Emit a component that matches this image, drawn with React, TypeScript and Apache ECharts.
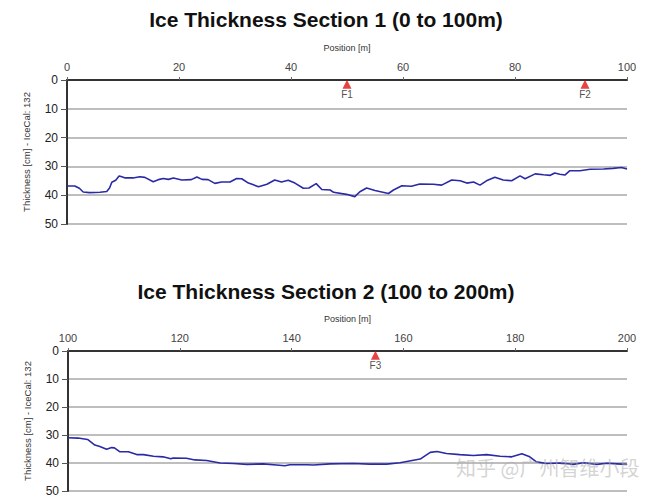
import React, { useEffect, useRef } from "react";
import * as echarts from "echarts";

// Section 1 (0–100 m)
const sec1Pos = [0, 1.4, 2.2, 2.9, 4, 5.9, 7.1, 7.6, 8, 8.7, 9.3, 9.8, 10.4, 11.8, 13, 13.9, 15.4, 16.3, 17.2, 18.1, 19, 20.5, 22.2, 23.2, 24.1, 25.2, 26.4, 27.6, 29.1, 30.3, 31.2, 32.4, 33.3, 34.2, 35.7, 37.1, 38.3, 39.5, 40.7, 42.2, 43.2, 44.5, 45.5, 47, 47.6, 49.9, 51.4, 52.3, 53.5, 55, 57.4, 58.3, 59.8, 61.5, 63, 65.4, 66.9, 68.7, 70.2, 71.4, 72.6, 73.75, 74.9, 76.4, 77.9, 79.4, 80.9, 81.8, 83.6, 85.1, 86.3, 87.1, 88, 88.9, 89.8, 91.6, 93.4, 95.8, 97.5, 99, 100];
const sec1Thk = [36.8, 36.8, 37.6, 38.9, 39.1, 39.0, 38.7, 37.5, 35.5, 34.8, 33.3, 33.6, 34.0, 34.0, 33.6, 33.8, 35.3, 34.6, 34.2, 34.5, 34.0, 34.7, 34.6, 33.7, 34.5, 34.6, 35.9, 35.4, 35.4, 34.2, 34.3, 35.8, 36.4, 37.1, 36.2, 34.7, 35.4, 34.8, 35.8, 37.6, 37.5, 36.0, 38.0, 38.2, 39.0, 39.7, 40.5, 38.8, 37.5, 38.4, 39.4, 38.2, 36.7, 36.9, 36.1, 36.2, 36.5, 34.7, 35.0, 35.8, 35.4, 36.5, 35.0, 33.8, 34.7, 35.0, 33.3, 34.3, 32.6, 32.9, 33.1, 32.3, 32.7, 33.0, 31.5, 31.5, 31.0, 30.9, 30.7, 30.4, 30.9];

// Section 2 (100–200 m)
const sec2Pos = [100, 101.8, 103.5, 104.8, 105.7, 106.9, 107.8, 108.3, 109.3, 110.8, 112.3, 113.5, 115.3, 117, 118.4, 118.8, 121.2, 122.7, 124.8, 127.2, 129.6, 132, 134.9, 137.3, 138.8, 139.7, 142.7, 143.9, 146.9, 151, 154, 157, 159.4, 161.8, 163, 164.8, 166, 167.7, 170.1, 172.5, 174.9, 177.3, 179.4, 181.2, 182.6, 183.8, 185.6, 188, 190.4, 192.2, 194.6, 196.4, 198.2, 200];
const sec2Thk = [31.0, 31.1, 31.6, 33.6, 34.1, 35.1, 34.5, 34.6, 36.0, 36.0, 37.0, 37.0, 37.6, 37.8, 38.5, 38.2, 38.3, 38.9, 39.1, 40.0, 40.2, 40.5, 40.3, 40.7, 41.0, 40.6, 40.6, 40.7, 40.3, 40.2, 40.4, 40.4, 39.9, 39.0, 38.6, 36.2, 35.9, 36.6, 37.0, 37.3, 37.0, 37.6, 37.8, 36.7, 37.8, 39.6, 40.2, 40.0, 40.5, 39.9, 40.5, 40.1, 40.3, 40.5];

// Event markers
const markerNames1 = ["F1", "F2"];
const markerPos1 = [50, 92.5];
const markerNames2 = ["F3"];
const markerPos2 = [155];

const titles = ["Ice Thickness Section 1 (0 to 100m)", "Ice Thickness Section 2 (100 to 200m)"];
const xName = "Position [m]";
const yName = "Thickness [cm] - IceCal: 132";
const watermark = "知乎 @广州智维小段";

const FONT = "'Liberation Sans', Arial, sans-serif";

function xAxisCfg(gridIndex: number, min: number, max: number) {
  return {
    gridIndex,
    type: "value",
    position: "top",
    min,
    max,
    interval: 20,
    name: xName,
    nameLocation: "middle",
    nameGap: 28,
    nameTextStyle: { fontSize: 9, color: "#333", fontFamily: FONT },
    axisLine: { show: true, lineStyle: { color: "#333", width: 2 } },
    axisTick: { show: true, length: 3, lineStyle: { color: "#666" } },
    axisLabel: { fontSize: 11, color: "#444", margin: 8, fontFamily: FONT },
    splitLine: { show: false },
  };
}

function yAxisCfg(gridIndex: number) {
  return {
    gridIndex,
    type: "value",
    inverse: true,
    min: 0,
    max: 50,
    interval: 10,
    name: yName,
    nameLocation: "middle",
    nameGap: 36,
    nameRotate: 90,
    nameTextStyle: { fontSize: 9.5, color: "#333", fontFamily: FONT },
    axisLine: { show: true, lineStyle: { color: "#333", width: 2 } },
    axisTick: { show: true, length: 6, lineStyle: { color: "#555" } },
    axisLabel: { fontSize: 12, color: "#222", margin: 9, fontFamily: FONT },
    splitLine: { show: true, lineStyle: { color: "#a8a8a8", width: 1.5 } },
  };
}

function lineSeries(idx: number, pos: number[], thk: number[]) {
  return {
    type: "line",
    xAxisIndex: idx,
    yAxisIndex: idx,
    symbol: "none",
    showSymbol: false,
    lineStyle: { color: "#2a2aa6", width: 1.6 },
    data: pos.map((p, i) => [p, thk[i]]),
    z: 3,
  };
}

function markerSeries(idx: number, names: string[], pos: number[]) {
  return {
    type: "scatter",
    xAxisIndex: idx,
    yAxisIndex: idx,
    symbol: "triangle",
    symbolSize: [9, 9],
    itemStyle: { color: "#e01414" },
    label: {
      show: true,
      position: "bottom",
      distance: 1,
      formatter: "{b}",
      fontSize: 10,
      color: "#222",
      fontFamily: FONT,
    },
    data: names.map((n, i) => ({ name: n, value: [pos[i], 1.5] })),
    z: 5,
  };
}

export default function App() {
  const ref = useRef<HTMLDivElement>(null);
  useEffect(() => {
    if (!ref.current) return;
    const chart = echarts.init(ref.current, undefined, { renderer: "svg" });
    chart.setOption({
      animation: false,
      backgroundColor: "#ffffff",
      title: [
        {
          text: titles[0],
          left: "center",
          top: 9,
          padding: 0,
          textStyle: { fontSize: 21, fontWeight: "bold", color: "#111", fontFamily: FONT },
        },
        {
          text: titles[1],
          left: "center",
          top: 281,
          padding: 0,
          textStyle: { fontSize: 21, fontWeight: "bold", color: "#111", fontFamily: FONT },
        },
      ],
      grid: [
        { left: 67, top: 80, width: 560, height: 144 },
        { left: 68, top: 351, width: 559, height: 145 },
      ],
      xAxis: [xAxisCfg(0, 0, 100), xAxisCfg(1, 100, 200)],
      yAxis: [yAxisCfg(0), yAxisCfg(1)],
      series: [
        lineSeries(0, sec1Pos, sec1Thk),
        lineSeries(1, sec2Pos, sec2Thk),
        markerSeries(0, markerNames1, markerPos1),
        markerSeries(1, markerNames2, markerPos2),
      ],
      graphic: [
        {
          type: "text",
          left: 456,
          top: 457,
          z: 10,
          style: {
            text: watermark,
            fontSize: 20,
            fill: "rgba(175,175,175,0.55)",
            fontFamily: "'Noto Sans CJK SC', sans-serif",
          },
        },
      ],
    });
    return () => chart.dispose();
  }, []);
  return (
    <div
      ref={ref}
      style={{ position: "fixed", left: 0, top: 0, width: 652, height: 497 }}
    />
  );
}
